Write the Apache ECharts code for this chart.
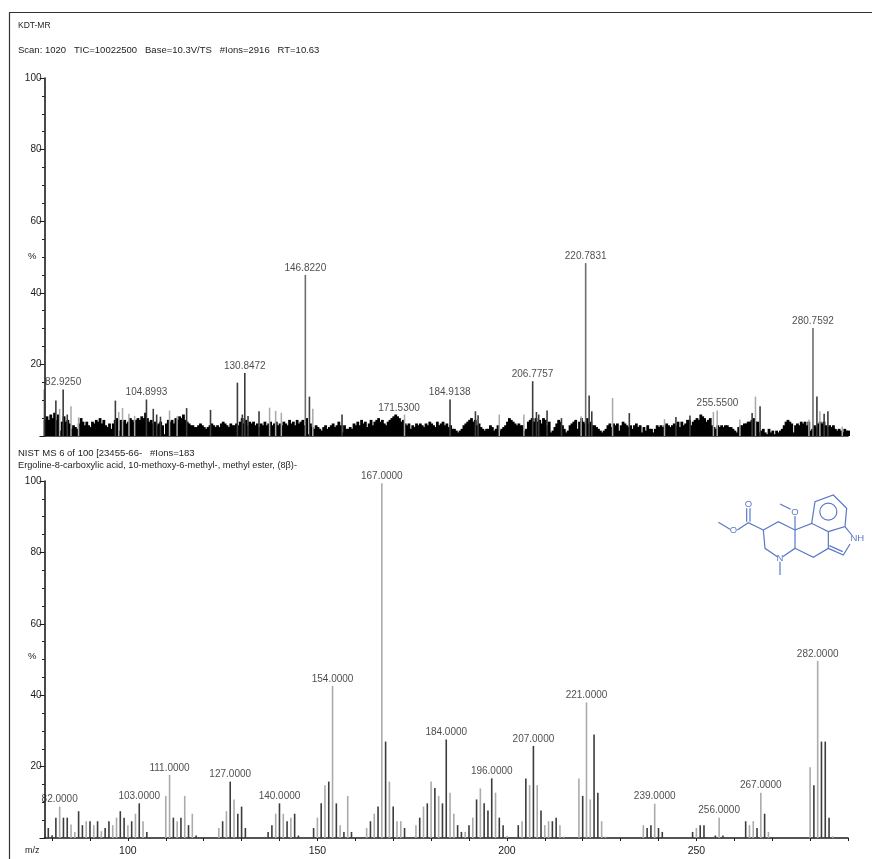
<!DOCTYPE html>
<html>
<head>
<meta charset="utf-8">
<style>
html,body{margin:0;padding:0;background:#fff}
#c{width:872px;height:859px;filter:blur(0.55px)}
</style>
<script src="https://cdn.jsdelivr.net/npm/echarts@6/dist/echarts.min.js"></script>
</head>
<body>
<div id="c"></div>
<script>
// ---------- text ----------
const topTitle = 'KDT-MR';
const topScanLine = 'Scan: 1020   TIC=10022500   Base=10.3V/TS   #Ions=2916   RT=10.63';
const bottomTitle = 'NIST MS 6 of 100 [23455-66-   #Ions=183';
const bottomName = 'Ergoline-8-carboxylic acid, 10-methoxy-6-methyl-, methyl ester, (8\u03b2)-';

// ---------- m/z scale ----------
const mzMin = 78;
const mzMax = 290;
const mzTicks = [80,90,100,110,120,130,140,150,160,170,180,190,200,210,220,230,240,250,260,270,280,290];
const mzLabels = [100,150,200,250];

// ---------- top spectrum: continuous noise floor, one value every 0.5 m/z from 78 ----------
const topFloorStep = 0.5;
const topFloor = [
4.5,5.5,4.5,6,5,6.5,4.5,6,1.5,4,
5.5,4,4.5,3.5,2,3,2.5,2,3.5,5,
4,3,4,3,2.5,4,3.5,4.5,4,5,
3.5,4.5,3,2.5,3.5,2,3.5,4.5,5,1.5,
4.5,4,4.5,3.5,4,5,4.5,4,4.5,5,
4.5,5.5,5,6.5,5,4,4.5,3.5,4,3,
3.5,4,3,0.5,3.5,4.5,4,4.5,3.5,5,
4.5,5.5,5,6,4.5,4,3.5,3,3,2.5,
2.5,3,3.5,3,2.5,2,2.5,3,3.5,3,
2.5,3,2.5,3.5,4,3.5,3,2.5,3.5,3,
3,3.5,3,4,5,3.5,4.5,3,4,3.5,
4,3,3.5,2.5,3.5,3,4,3,3.5,4,
3,3.5,4,3,3.5,3,4,3.5,3,4.5,
3.5,4,3,4.5,3.5,4,4.5,3,5,0.5,
3.5,2.5,2,3,2.5,2,1.5,2.5,3,2,
2.5,3,3.5,2.5,3,4,3,1,3,2,
2,2.5,2,3.5,3,4,3,4.5,3.5,4,
2.5,3.5,4.5,3,4,4.5,5,4,4.5,3.5,
3,4,4.5,5,5.5,6,5.5,5,4,4.5,
3.5,3,3.5,2,3,2.5,3.5,3,3.5,3,
2.5,3.5,3,4,3.5,3,2.5,4,3,3.5,
4,3,3.5,2.5,3,2,2,1.5,1,1.5,
2,3,3.5,4,4.5,5,4,4.5,3,3.5,
2.5,2,1.5,2,2,3,2.5,1.5,2,3,
1.5,2,2.5,3,4,5,4.5,4,3.5,3,
3.5,3,3,1.5,2,4,4.5,5,4,5,
4,4.5,3.5,5,4.5,3,4,1,1.5,2.5,
3.5,4.5,4,3,2,1,1.5,3,3.5,4,
4.5,2,4,5,4,3.5,5,3.5,4,3,
3,2.5,2,1.5,1,1.5,2,3,3.5,2.5,
3.5,3,3.5,1.5,3,4,3.5,3,2.5,3,
2,3,3.5,2.5,3,1,2.5,1.5,3,2,
2,1,2,3,2.5,3,2.5,3,3.5,3,
2.5,3,3.5,3,4,2.5,4,3,3.5,4.5,
4.5,3,4,4.5,5,4.5,6,5.5,5,4,
4.5,5,3,2.5,2,3,2.5,3,2.5,3,
3,2.5,2.5,2,1.5,1,2.5,3,3,3.5,
3.5,4,4,4.5,5,4,4,1,1.5,2,
1,0.5,2,1,1.5,0.5,1.5,1,1.5,2,
3,4,4.5,4,3.5,1,3,3.5,3,4,
3.5,4,3,4,1.5,2,3,2.5,3.5,4,
3.5,4,3,2.5,3,2.5,3,2,1.5,2,
1.5,1,2,1.5,1.5
];

// top spectrum: peaks [m/z, %]
const topDarkPeaks = [
[78,13],[81,9.9],[82.925,13],[84,6],[96.7,9.9],[104.9,10.2],[106.7,7.6],[107.6,6],[108.6,5.4],
[115.5,7.8],[121.8,7.3],[128.9,14.9],[130.85,17.6],[130.2,6],[131.7,5.6],[134.6,6.9],
[147.9,11],[156.5,6],[185,10.2],[191.7,6.9],[192.4,5.8],[206.8,15.3],[207.8,6.7],[208.4,6],
[210.6,7.1],[214.4,5],[221.7,11.3],[222.4,6.9],[232.3,6.4],[244.6,5.3],[248.3,5.7],
[264.7,6.4],[266.8,8.3],[281.8,11],[283.7,6.2],[284.7,6.9]
];
const topLightPeaks = [
[82,7.6],[85,8.3],[87,5.2],[97.6,6.7],[98.6,7.8],[100.3,6.2],[101.8,5.6],[111,7.1],[113,5.5],
[137.4,7.9],[139,7],[140.5,6.5],[148.8,7.6],[173,6],[198,6],[204.5,6],[219.6,5.5],[227.9,10.6],
[241.6,4.7],[254.5,6.7],[255.5,7.1],[261.5,4.6],[265.6,11],[279.7,4.6],[282.6,6.9],[288.5,2.6]
];
const topMainPeaks = [[146.822,45],[220.7831,48.3],[280.7592,30.2]];
const topPeakTags = [
[82.925,13,'82.9250'],[104.8993,10.2,'104.8993'],[130.8472,17.6,'130.8472'],[146.822,45,'146.8220'],
[171.53,5.7,'171.5300'],[184.9138,10.2,'184.9138'],[206.7757,15.3,'206.7757'],[220.7831,48.3,'220.7831'],
[255.55,7.1,'255.5500'],[280.7592,30.2,'280.7592']
];

// bottom spectrum: peaks [m/z, %]
const bottomDarkPeaks = [
[79,2.8],[80,0.8],[81,5.7],[83,5.7],[84,5.7],[87,7.5],[88,3.6],[90,4.7],[92,4.7],[94,2.8],[95,4.7],
[98,7.5],[99,5.7],[101,4.7],[103,9.7],[105,1.7],[112,5.7],[114,5.7],[116,3.6],[118,0.7],
[125,4.7],[127,15.8],[129,6.8],[130,8.8],[131,2.8],[137,1.7],[138,3.6],[140,9.7],[142,4.7],[144,6.8],[145,0.7],
[149,2.8],[151,9.7],[153,15.8],[155,9.7],[157,1.7],[159,1.7],[164,4.7],[166,8.8],[168,27],[170,8.8],[173,2.8],
[177,5.7],[179,9.7],[181,14],[183,9.7],[184,27.6],[187,3.6],[188,1.7],[190,3.6],[192,10.8],[194,9.7],[195,7.7],
[196,16.7],[198,5.7],[199,3.6],[203,3.6],[205,16.7],[207,25.8],[209,7.7],[212,4.7],[213,5.7],
[220,11.8],[223,29],[224,12.7],[237,2.8],[238,3.6],[240,2.8],[241,1.7],[249,1.7],[251,3.6],[252,3.6],
[255,0.7],[257,0.7],[263,4.7],[266,2.8],[268,6.8],[281,14.8],[283,27],[284,27],[285,5.7]
];
const bottomLightPeaks = [
[82,8.8],[85,3.8],[86,1.7],[89,4.7],[91,3.6],[93,1.9],[96,3.6],[97,5.7],[100,3.6],[102,6.8],[104,4.7],
[110,11.8],[111,17.7],[113,4.7],[115,11.8],[117,6.8],[124,2.8],[126,7.5],[128,10.8],[139,6.8],[141,6.8],[143,5.7],
[150,5.7],[152,14.8],[154,42.6],[156,3.6],[158,11.8],[163,2.8],[165,6.8],[167,99.4],[169,15.8],[171,4.7],[172,4.7],
[176,3.6],[178,8.8],[180,15.8],[182,11.8],[185,12.7],[186,6.8],[189,1.7],[191,5.7],[193,13.9],[197,12.7],[200,0.6],
[204,4.7],[206,14.8],[208,14.8],[210,3.6],[211,4.7],[214,3.6],[215,0.4],[219,16.7],[221,38],[222,10.8],[225,4.7],[226,0.4],
[236,3.6],[239,9.6],[250,2.8],[256,5.7],[264,3.6],[265,4.7],[267,12.7],[269,1.7],[280,19.8],[282,49.6],[286,0.5]
];
const bottomPeakTags = [
[82,8.8,'82.0000'],[103,9.7,'103.0000'],[111,17.7,'111.0000'],[127,15.8,'127.0000'],[140,9.7,'140.0000'],
[154,42.6,'154.0000'],[167,99.4,'167.0000'],[184,27.6,'184.0000'],[196,16.7,'196.0000'],[207,25.8,'207.0000'],
[221,38,'221.0000'],[239,9.6,'239.0000'],[256,5.7,'256.0000'],[267,12.7,'267.0000'],[282,49.6,'282.0000']
];

const ink = '#1c1c1c';
const font = '"Liberation Sans", Arial, sans-serif';

function yAxisFor(gridIndex){
  return {
    type:'value', gridIndex, min:0, max:100, interval:20,
    axisLine:{show:true, lineStyle:{color:ink, width:1.6}},
    axisTick:{show:true, length:5, lineStyle:{color:ink, width:1}},
    minorTick:{show:true, splitNumber:4, length:2.5, lineStyle:{color:ink, width:1}},
    splitLine:{show:false}, minorSplitLine:{show:false},
    axisLabel:{fontSize:10, fontFamily:font, color:ink, margin:3,
      formatter:v => v === 0 ? '' : String(v)}
  };
}
function barSeries(name, xi, data, color, width, z){
  return {
    name, type:'bar', xAxisIndex:xi, yAxisIndex:xi, data, barWidth:width, barGap:'-100%',
    itemStyle:{color}, clip:false, silent:true, animation:false, z
  };
}
function tagSeries(name, xi, tags){
  return {
    name, type:'scatter', xAxisIndex:xi, yAxisIndex:xi, symbolSize:0, z:6, silent:true, animation:false,
    data:tags.map(t => ({value:[t[0],t[1]], label:{show:true, formatter:t[2]}})),
    label:{show:true, position:'top', distance:2, fontSize:10, fontFamily:font, color:ink}
  };
}
const floorPoints = topFloor.map((v,i) => [mzMin + i*topFloorStep, v]);

function txt(x,y,text,size,extra){
  return {type:'text', x, y, silent:true,
    style:Object.assign({text, fontSize:size, fontFamily:font, fill:ink, align:'left', verticalAlign:'middle'}, extra||{})};
}
const blue = '#5a78c6';
const ox = 700, oy = 480, k = 1/3;
const bondPaths = [
 [[55,127],[90,148]],[[112,150],[145,128],[190,150]],[[140,85],[140,125]],[[150,85],[150,125]],
 [[190,150],[235,125],[285,150],[285,205],[248,230]],[[232,230],[195,205],[190,150]],[[240,245],[240,285]],
 [[285,150],[285,108]],[[272,88],[240,72]],[[285,150],[335,130],[385,155],[385,205],[340,232],[285,205]],
 [[335,130],[345,65],[400,45],[440,85],[435,140],[385,155]],[[435,140],[455,165]],[[385,205],[430,225],[450,192]],[[388,197],[428,215]]
];
const moleculeGraphics = bondPaths.map(p => ({
  type:'polyline', silent:true,
  shape:{points:p.map(q => [ox+q[0]*k, oy+q[1]*k])},
  style:{stroke:blue, lineWidth:1.2, fill:null}
})).concat([
 {type:'circle', silent:true, shape:{cx:ox+385*k, cy:oy+95*k, r:8.5}, style:{stroke:blue, lineWidth:1.2, fill:null}},
 txt(ox+100*k,oy+152*k,'O',9.5,{fill:blue,align:'center'}),
 txt(ox+145*k,oy+72*k,'O',9.5,{fill:blue,align:'center'}),
 txt(ox+285*k,oy+97*k,'O',9.5,{fill:blue,align:'center'}),
 txt(ox+240*k,oy+236*k,'N',9.5,{fill:blue,align:'center'}),
 txt(ox+472*k,oy+175*k,'NH',9.5,{fill:blue,align:'center'})
]);

const chart = echarts.init(document.getElementById('c'), null, {renderer:'canvas'});
chart.setOption({
  backgroundColor:'#fff',
  animation:false,
  grid:[
    {left:44.5, top:78, width:803.5, height:358},
    {left:44.5, top:481, width:803.5, height:357}
  ],
  xAxis:[
    {type:'value', gridIndex:0, min:mzMin, max:mzMax, splitLine:{show:false},
     axisLine:{show:true, onZero:false, lineStyle:{color:ink, width:1.6}},
     axisTick:{show:false}, axisLabel:{show:false}},
    {type:'value', gridIndex:1, min:mzMin, max:mzMax, splitLine:{show:false},
     axisLine:{show:true, onZero:false, lineStyle:{color:ink, width:1.6}},
     axisTick:{show:true, length:3, customValues:mzTicks, lineStyle:{color:ink}},
     axisLabel:{show:true, customValues:mzLabels, fontSize:10.5, fontFamily:font, color:ink, margin:8}}
  ],
  yAxis:[yAxisFor(0), yAxisFor(1)],
  series:[
    barSeries('top floor',0,floorPoints,'#000000',2.8,2),
    barSeries('top light peaks',0,topLightPeaks,'#a8a8a8',1.5,3),
    barSeries('top dark peaks',0,topDarkPeaks,'#3c3c3c',1.6,4),
    barSeries('top main peaks',0,topMainPeaks,'#6e6e6e',1.6,5),
    tagSeries('top tags',0,topPeakTags),
    barSeries('bottom light peaks',1,bottomLightPeaks,'#ababab',1.6,3),
    barSeries('bottom dark peaks',1,bottomDarkPeaks,'#3c3c3c',1.6,4),
    tagSeries('bottom tags',1,bottomPeakTags)
  ],
  graphic:[
    {type:'polyline', silent:true, shape:{points:[[9.5,859],[9.5,12.5],[872,12.5]]}, style:{stroke:'#333', lineWidth:1.2, fill:null}},
    txt(18,26,topTitle,8.5),
    txt(18,50,topScanLine,9.5),
    txt(18,453,bottomTitle,9.5),
    txt(18,465,bottomName,9.2),
    txt(28,256,'%',9.5),
    txt(28,656,'%',9.5),
    txt(25,851,'m/z',9)
  ].concat(moleculeGraphics)
});
</script>
</body>
</html>
